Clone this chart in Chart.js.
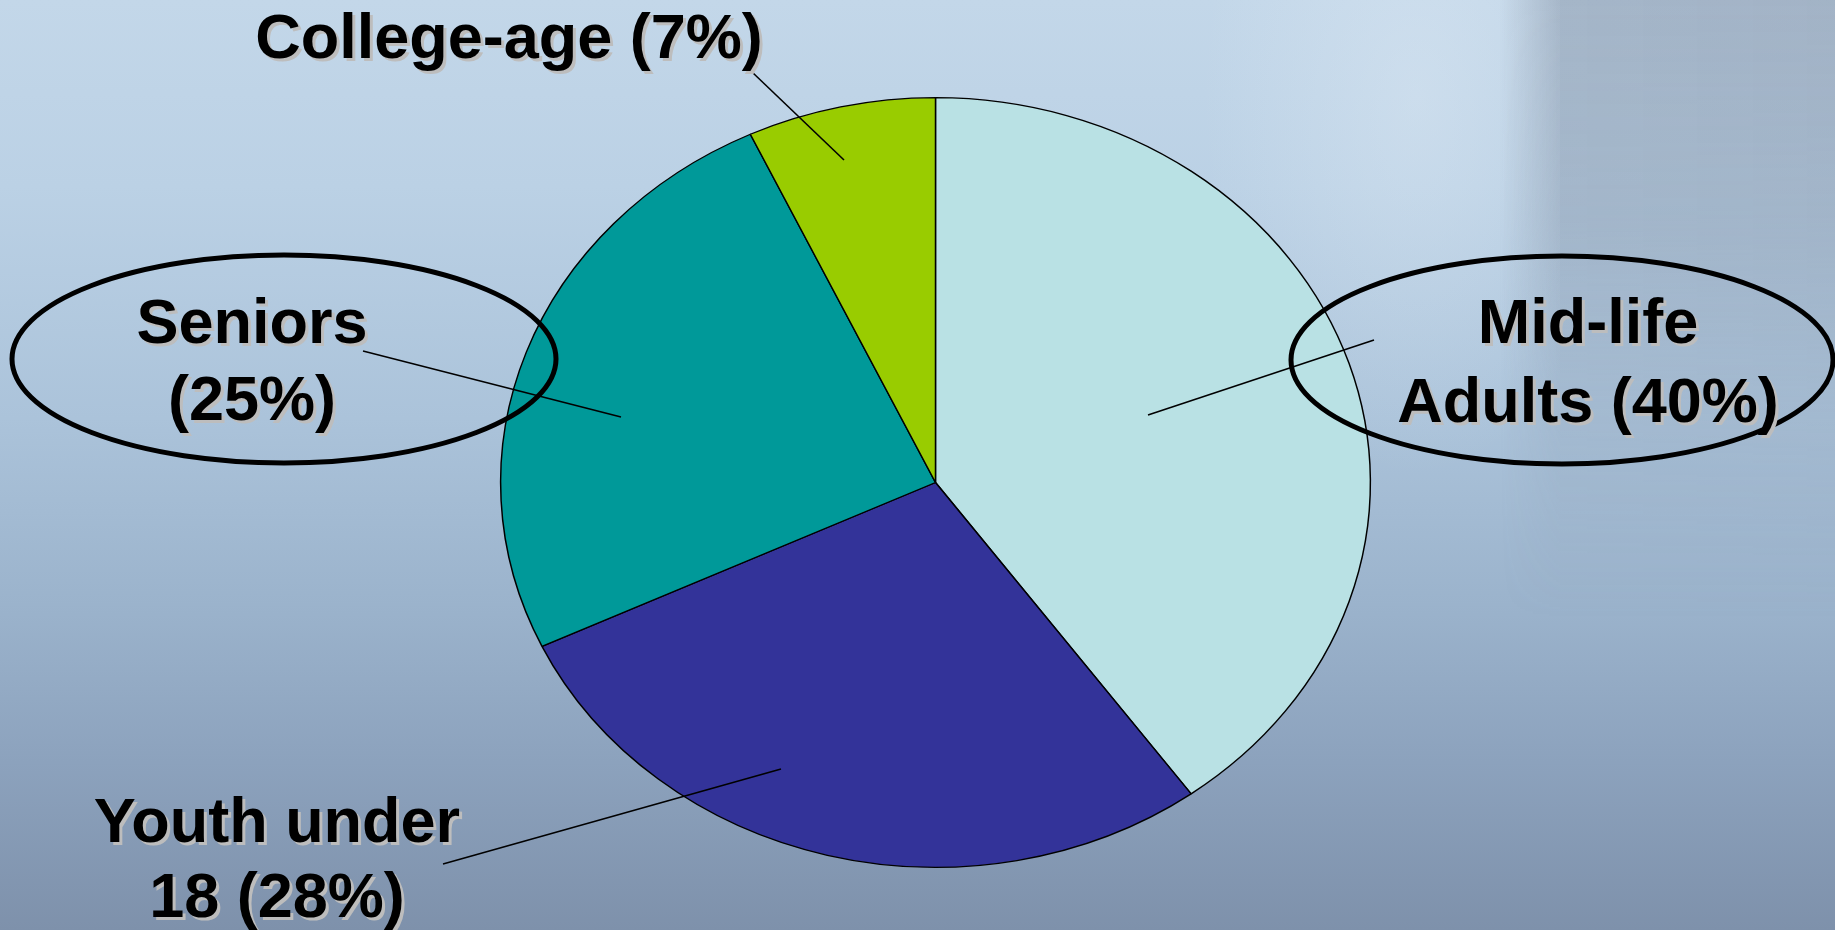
<!DOCTYPE html>
<html>
<head>
<meta charset="utf-8">
<script src="https://cdn.jsdelivr.net/npm/chart.js@4/dist/chart.umd.min.js"></script>
<style>
  html, body { margin: 0; padding: 0; width: 1835px; height: 930px; overflow: hidden; }
  body {
    position: relative;
    background: linear-gradient(180deg, #c3d7e9 0%, #bbd1e5 20%, #abc3da 45%, #9bb3cc 65%, #8ca2bd 82%, #7e91ab 100%);
  }
  #glow {
    position: absolute; left: 1200px; top: 0; width: 360px; height: 480px;
    background: radial-gradient(ellipse at 60% 20%, rgba(228,238,247,0.35), rgba(228,238,247,0) 70%);
  }
  #refl {
    position: absolute; left: 1500px; top: 0; width: 335px; height: 620px;
    background: linear-gradient(to right, rgba(95,105,125,0) 0px, rgba(95,105,125,0.30) 60px, rgba(95,105,125,0.32) 100%);
    -webkit-mask-image: linear-gradient(to bottom, #000 0%, rgba(0,0,0,0.8) 35%, rgba(0,0,0,0.35) 65%, rgba(0,0,0,0) 100%);
    mask-image: linear-gradient(to bottom, #000 0%, rgba(0,0,0,0.8) 35%, rgba(0,0,0,0.35) 65%, rgba(0,0,0,0) 100%);
  }
  #c { position: absolute; left: 0; top: 0; }
</style>
</head>
<body>
<div id="glow"></div>
<div id="refl"></div>
<canvas id="c" width="1835" height="930"></canvas>
<script>
// ---- data ----
const categories = ["Mid-life Adults", "Youth under 18", "Seniors", "College-age"];
const shares = [40, 28, 25, 7];
const sliceColors = ["#b9e1e4", "#333399", "#009999", "#99cc00"];
const labelLines = [
  ["Mid-life", "Adults (40%)"],
  ["Youth under", "18 (28%)"],
  ["Seniors", "(25%)"],
  ["College-age (7%)"]
];

// ---- layout (annotation placement, not data) ----
const pieAspect = 434.5 / 384.5;
const labelLayout = [
  { x: 1588, y: [343, 422], line: [1374, 340, 1148, 415], ellipse: [1562, 360, 271, 104] },
  { x: 277, y: [842, 917], line: [443, 864, 781, 769] },
  { x: 252, y: [343, 420], line: [363, 351, 621, 417], ellipse: [284, 359, 272, 104] },
  { x: 509, y: [58], line: [752, 72, 844, 160] }
];

const stretchPlugin = {
  id: 'stretch',
  beforeDatasetsDraw(chart) {
    const arc = chart.getDatasetMeta(0).data[0];
    const ctx = chart.ctx;
    ctx.save();
    ctx.translate(arc.x, 0);
    ctx.scale(pieAspect, 1);
    ctx.translate(-arc.x, 0);
  },
  afterDatasetsDraw(chart) {
    chart.ctx.restore();
  }
};

const annotPlugin = {
  id: 'annot',
  afterDraw(chart) {
    const ctx = chart.ctx;
    ctx.save();
    ctx.strokeStyle = '#000';
    ctx.lineWidth = 1.6;
    labelLayout.forEach(l => {
      ctx.beginPath();
      ctx.moveTo(l.line[0], l.line[1]);
      ctx.lineTo(l.line[2], l.line[3]);
      ctx.stroke();
    });
    ctx.lineWidth = 5;
    labelLayout.forEach(l => {
      if (!l.ellipse) return;
      ctx.beginPath();
      ctx.ellipse(l.ellipse[0], l.ellipse[1], l.ellipse[2], l.ellipse[3], 0, 0, Math.PI * 2);
      ctx.stroke();
    });
    ctx.font = 'bold 63px "Liberation Sans", Arial, sans-serif';
    ctx.textAlign = 'center';
    ctx.textBaseline = 'alphabetic';
    labelLayout.forEach((l, i) => {
      labelLines[i].forEach((t, j) => {
        ctx.fillStyle = '#bdbdbd';
        ctx.fillText(t, l.x + 3, l.y[j] + 3);
        ctx.fillStyle = '#000';
        ctx.fillText(t, l.x, l.y[j]);
      });
    });
    ctx.restore();
  }
};

new Chart(document.getElementById('c'), {
  type: 'pie',
  data: {
    labels: categories,
    datasets: [{
      data: shares,
      backgroundColor: sliceColors,
      borderColor: '#000',
      borderWidth: 1.3,
      hoverOffset: 0
    }]
  },
  options: {
    responsive: false,
    animation: false,
    events: [],
    layout: { padding: { top: 97, bottom: 62, left: 550, right: 514 } },
    plugins: { legend: { display: false }, tooltip: { enabled: false } }
  },
  plugins: [stretchPlugin, annotPlugin]
});
</script>
</body>
</html>
